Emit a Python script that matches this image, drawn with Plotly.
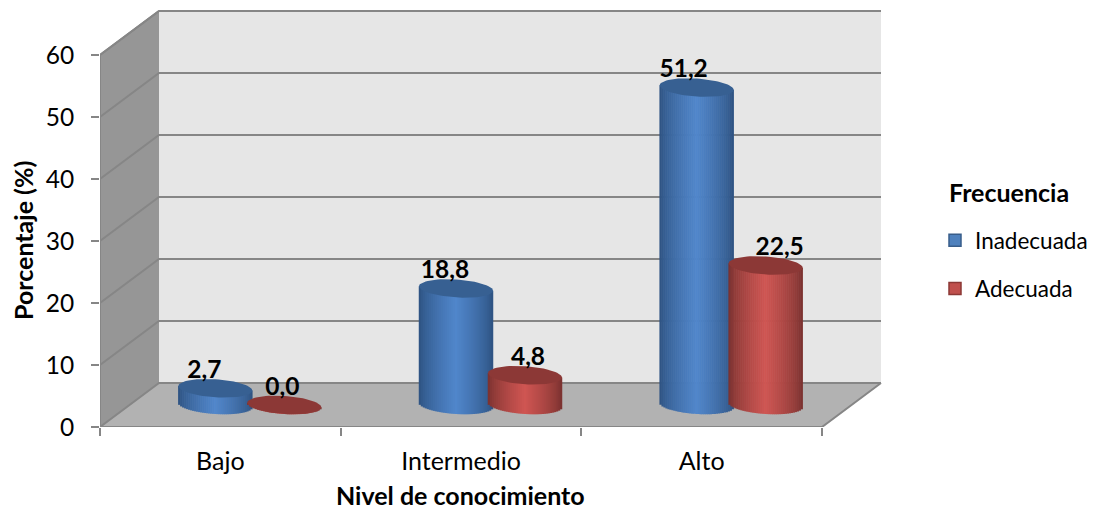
import math
import plotly.graph_objects as go

categories = ["Bajo", "Intermedio", "Alto"]
inadecuada = [2.7, 18.8, 51.2]
adecuada = [0.0, 4.8, 22.5]
y_ticks = [0, 10, 20, 30, 40, 50, 60]

FONT = "Lato"
TXT = "#000000"
PX_X, PX_Y = 240.67, 6.2          # pixels per category / per percent
DX, DY = 59 / PX_X, 44 / PX_Y     # depth of the 3D box
RX, RY, SHEAR = 37 / PX_X, 9 / PX_Y, 2.3 / PX_Y
STRIPS = 37
EDGE = "#868686"


def mix(a, b, t):
    return "#" + "".join(f"{round(x + (y - x) * t):02x}" for x, y in zip(a, b))


def poly(pts):
    return "M " + " L ".join(f"{x},{y}" for x, y in pts) + " Z"


series = [
    dict(name="Inadecuada", values=inadecuada, off=-34.5 / PX_X, edge=(0x2c, 0x50, 0x7e), mid=(0x50, 0x86, 0xcb),
         top="#376092", swatch="#4f81bd", line="#385d8a", shift=[-11, -11, -13]),
    dict(name="Adecuada", values=adecuada, off=34.5 / PX_X, edge=(0x76, 0x30, 0x2e), mid=(0xcf, 0x55, 0x52),
         top="#8c3836", swatch="#c0504d", line="#8c3836", shift=[-2, 3, 14]),
]

fig = go.Figure()

# cylinder bodies: vertical strips shaded from edge to centre
for s in series:
    for k in range(STRIPS):
        u = -1 + (2 * k + 1) / STRIPS
        shade = (1 - abs(u)) ** 0.7
        xs, bases, heights = [], [], []
        for i, v in enumerate(s["values"]):
            centre = DY / 2
            low = centre - SHEAR * u - RY * math.sqrt(1 - u * u)
            high = centre + v - SHEAR * u
            xs.append(i + DX / 2 + s["off"] + u * RX)
            bases.append(low)
            heights.append(high - low)
        fig.add_bar(x=xs, y=heights, base=bases, width=2 * RX / STRIPS * 1.25,
                    marker=dict(color=mix(s["edge"], s["mid"], shade), line_width=0),
                    showlegend=False, hoverinfo="skip")

# top faces
for s in series:
    for i, v in enumerate(s["values"]):
        xs, ys = [], []
        for a in range(73):
            t = math.radians(a * 5)
            xs.append(i + DX / 2 + s["off"] + RX * math.cos(t))
            ys.append(DY / 2 + v - SHEAR * math.cos(t) + RY * math.sin(t))
        fig.add_scatter(x=xs, y=ys, mode="lines", fill="toself", fillcolor=s["top"],
                        line=dict(width=0, color=s["top"]), showlegend=False, hoverinfo="skip")

# box edges that must not be clipped by the plot area
x0, x1 = -0.5, 2.5
fig.add_scatter(x=[x1 + DX, x1, x0, x0, x0 + DX], y=[DY, 0, 0, 60, 60 + DY], mode="lines",
                line=dict(color=EDGE, width=2), cliponaxis=False, showlegend=False, hoverinfo="skip")

# data labels
for s in series:
    fig.add_scatter(
        x=[i + DX / 2 + s["off"] + d / PX_X for i, d in enumerate(s["shift"])],
        y=[DY / 2 + v + 16.5 / PX_Y for v in s["values"]],
        text=[f"{v:.1f}".replace(".", ",") for v in s["values"]],
        mode="text", textposition="middle center",
        textfont=dict(family=FONT, size=24.5, color=TXT, weight="bold"),
        cliponaxis=False, showlegend=False, hoverinfo="skip")

# legend entries
for s in series:
    fig.add_bar(x=[None], y=[None], name=s["name"], legendgroup=s["name"],
                marker=dict(color=s["swatch"], line=dict(color=s["line"], width=1.5)))

shapes = [
    dict(type="path", path=poly([(x0 + DX, DY), (x1 + DX, DY), (x1 + DX, 60 + DY), (x0 + DX, 60 + DY)]),
         fillcolor="#e6e6e6", line_width=0, layer="below"),
    dict(type="path", path=poly([(x0, 0), (x0 + DX, DY), (x0 + DX, 60 + DY), (x0, 60)]),
         fillcolor="#969696", line_width=0, layer="below"),
    dict(type="path", path=poly([(x0, 0), (x0 + DX, DY), (x1 + DX, DY), (x1, 0)]),
         fillcolor="#b2b2b2", line_width=0, layer="below"),
]
for t in y_ticks:
    shapes.append(dict(type="path", path=f"M {x0},{t} L {x0 + DX},{t + DY} L {x1 + DX},{t + DY}",
                       line=dict(color=EDGE, width=2), layer="below"))

fig.update_layout(
    width=1095, height=512, autosize=False,
    margin=dict(l=100, r=207, t=5, b=85, autoexpand=False),
    paper_bgcolor="white", plot_bgcolor="white",
    barmode="overlay", shapes=shapes,
    font=dict(family=FONT, color=TXT),
    legend=dict(
        x=(935 - 100) / 788, xanchor="left", y=1 - (219 - 5) / 422, yanchor="top",
        font=dict(family=FONT, size=22.5, color=TXT), tracegroupgap=16, bgcolor="rgba(0,0,0,0)",
    ),
    annotations=[
        dict(text="<b>Frecuencia</b>", xref="paper", yref="paper", x=(947 - 100) / 788, y=1 - (192 - 5) / 422,
             xanchor="left", yanchor="middle", showarrow=False, font=dict(family=FONT, size=25, color=TXT)),
        dict(text="<b>Nivel de conocimiento</b>", xref="paper", yref="paper", x=(460 - 100) / 788, y=-68.5 / 422,
             xanchor="center", yanchor="middle", showarrow=False,
             font=dict(family=FONT, size=25, color=TXT)),
        dict(text="<b>Porcentaje (%)</b>", xref="paper", yref="paper", x=-77 / 788, y=1 - (241 - 5) / 422,
             xanchor="center", yanchor="middle", textangle=-90, showarrow=False,
             font=dict(family=FONT, size=25, color=TXT)),
    ],
)
fig.update_xaxes(
    range=[x0, x1 + 66 / PX_X], tickmode="array", tickvals=[0, 1, 2], ticktext=categories,
    ticks="", showgrid=False, zeroline=False, showline=False, ticklabelstandoff=17, automargin=False,
    tickfont=dict(family=FONT, size=25, color=TXT),
    minor=dict(tickmode="array", tickvals=[-0.5, 0.5, 1.5, 2.5], ticks="outside", ticklen=8, tickwidth=2,
               tickcolor=EDGE, showgrid=False),
)
fig.update_yaxes(
    range=[0, 422 / PX_Y], tickmode="array", tickvals=y_ticks, ticks="outside", ticklen=8, tickwidth=2,
    tickcolor=EDGE, showgrid=False, zeroline=False, showline=False, ticklabelstandoff=12, automargin=False,
    tickfont=dict(family=FONT, size=24.5, color=TXT),
)

fig.write_html("out.html", config=dict(displayModeBar=False), post_script="document.body.style.margin='0';")
